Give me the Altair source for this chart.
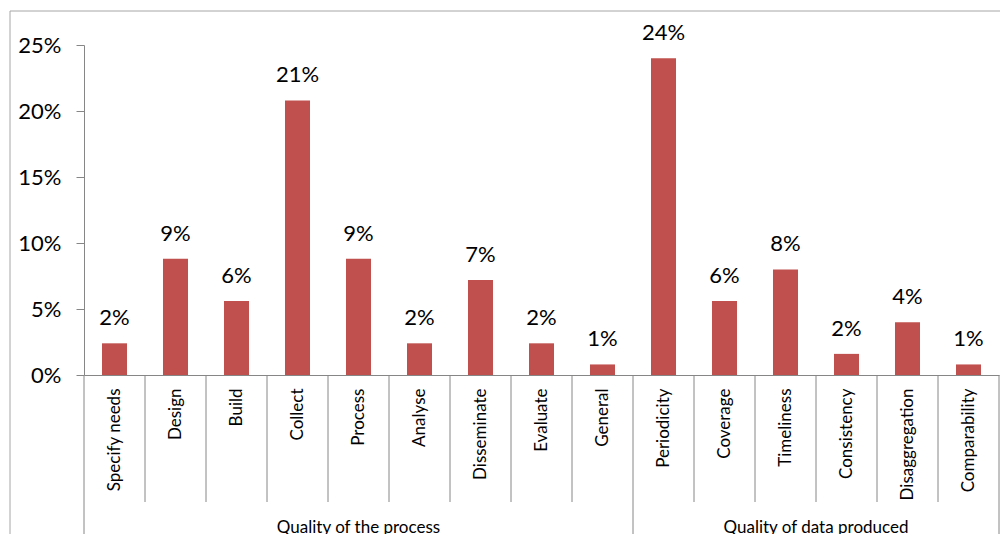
import altair as alt
import pandas as pd

categories = ["Specify needs", "Design", "Build", "Collect", "Process", "Analyse",
              "Disseminate", "Evaluate", "General", "Periodicity", "Coverage",
              "Timeliness", "Consistency", "Disaggregation", "Comparability"]
shares = [0.024, 0.088, 0.056, 0.208, 0.088, 0.024, 0.072, 0.024, 0.008,
          0.240, 0.056, 0.080, 0.016, 0.040, 0.008]
group_names = ["Quality of the process", "Quality of data produced"]
group_first = ["Specify needs", "Periodicity"]
y_ticks = [0, 0.05, 0.10, 0.15, 0.20, 0.25]

W, H = 915, 330
FONT = "Lato"
AX = "#868686"
BORDER = "#A6A6A6"

df = pd.DataFrame({"category": categories, "share": shares})
x_scale = alt.Scale(domain=categories, paddingInner=0, paddingOuter=0)
y_scale = alt.Scale(domain=[0, 0.25], nice=False)

x_axis = alt.Axis(title=None, labelAngle=-90, labelAlign="right", labelBaseline="middle",
                  labelFont=FONT, labelFontSize=17, labelColor="#000000",
                  labelPadding=13, ticks=False, domainColor=AX, labelLimit=0)
y_axis = alt.Axis(title=None, values=y_ticks, format=".0%", grid=False,
                  labelFont=FONT, labelFontSize=22, labelColor="#000000",
                  labelPadding=15, tickSize=8, tickColor=AX, domainColor=AX)

base = alt.Chart(df)
bars = base.mark_bar(color="#C0504D", width=alt.RelativeBandSize(0.41)).encode(
    x=alt.X("category:N", scale=x_scale, axis=x_axis),
    y=alt.Y("share:Q", scale=y_scale, axis=y_axis),
)
labels = base.mark_text(font=FONT, fontSize=22, color="#000000", baseline="alphabetic", dy=-18).encode(
    x=alt.X("category:N", scale=x_scale, axis=x_axis),
    y=alt.Y("share:Q", scale=y_scale, axis=y_axis),
    text=alt.Text("share:Q", format=".0%"),
)

short_df = pd.DataFrame({"category": [c for c in categories if c not in group_first]})
short_seps = alt.Chart(short_df).mark_rule(color=AX).encode(
    x=alt.X("category:N", scale=x_scale, axis=x_axis, bandPosition=0),
    y=alt.value(H), y2=alt.value(H + 127),
)
long_df = pd.DataFrame({"category": group_first})
long_seps = alt.Chart(long_df).mark_rule(color=AX).encode(
    x=alt.X("category:N", scale=x_scale, axis=x_axis, bandPosition=0),
    y=alt.value(H), y2=alt.value(H + 220),
)
end_df = pd.DataFrame({"category": [categories[-1]]})
end_sep = alt.Chart(end_df).mark_rule(color=AX).encode(
    x=alt.X("category:N", scale=x_scale, axis=x_axis, bandPosition=1),
    y=alt.value(H), y2=alt.value(H + 220),
)

g1 = pd.DataFrame({"category": ["Process"], "label": [group_names[0]]})
g2 = pd.DataFrame({"category": ["Consistency"], "label": [group_names[1]]})
g1_text = alt.Chart(g1).mark_text(font=FONT, fontSize=17, color="#000000", baseline="alphabetic").encode(
    x=alt.X("category:N", scale=x_scale, axis=x_axis, bandPosition=0.5),
    y=alt.value(H + 158), text="label:N",
)
g2_text = alt.Chart(g2).mark_text(font=FONT, fontSize=17, color="#000000", baseline="alphabetic").encode(
    x=alt.X("category:N", scale=x_scale, axis=x_axis, bandPosition=0),
    y=alt.value(H + 158), text="label:N",
)

one = pd.DataFrame({"k": [0]})
border_left = alt.Chart(one).mark_rule(color=BORDER).encode(
    x=alt.value(-74), y=alt.value(-34), y2=alt.value(H + 220))
border_top = alt.Chart(one).mark_rule(color=BORDER).encode(
    x=alt.value(-74), x2=alt.value(W + 100), y=alt.value(-34))

chart = alt.layer(
    border_left, border_top, bars, labels, short_seps, long_seps, end_sep, g1_text, g2_text
).properties(
    width=W, height=H,
    autosize=alt.AutoSizeParams(type="none"),
    padding={"left": 76, "top": 37, "right": 1, "bottom": 159},
).configure_view(stroke=None)

chart.save("out.html", embed_options={"renderer": "svg", "actions": False})
